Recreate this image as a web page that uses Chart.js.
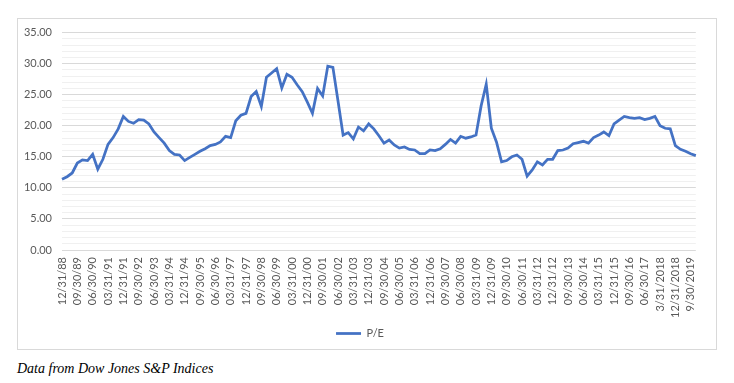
<!DOCTYPE html>
<html>
<head>
<meta charset="utf-8">
<script src="https://cdn.jsdelivr.net/npm/chart.js@4"></script>
<style>
  html, body { margin: 0; padding: 0; background: #fff; }
  body { width: 734px; height: 383px; position: relative; overflow: hidden; }
  #frame { position: absolute; left: 17px; top: 18px; width: 698px; height: 330px; border: 1px solid #d9d9d9; }
  #wrap { position: absolute; left: 0; top: -3px; width: 698px; height: 333px; }
  #caption { position: absolute; left: 17px; top: 361px; font-family: "Liberation Serif", "DejaVu Serif", serif; font-style: italic; font-size: 14px; color: #000; white-space: nowrap; }
</style>
</head>
<body>
<div id="frame"><div id="wrap"><canvas id="c"></canvas></div></div>
<div id="caption">Data from Dow Jones S&amp;P Indices</div>
<script>
const categories = [
  "12/31/88",
  "03/31/89","06/30/89","09/30/89","12/31/89",
  "03/31/90","06/30/90","09/30/90","12/31/90",
  "03/31/91","06/30/91","09/30/91","12/31/91",
  "03/31/92","06/30/92","09/30/92","12/31/92",
  "03/31/93","06/30/93","09/30/93","12/31/93",
  "03/31/94","06/30/94","09/30/94","12/31/94",
  "03/31/95","06/30/95","09/30/95","12/31/95",
  "03/31/96","06/30/96","09/30/96","12/31/96",
  "03/31/97","06/30/97","09/30/97","12/31/97",
  "03/31/98","06/30/98","09/30/98","12/31/98",
  "03/31/99","06/30/99","09/30/99","12/31/99",
  "03/31/00","06/30/00","09/30/00","12/31/00",
  "03/31/01","06/30/01","09/30/01","12/31/01",
  "03/31/02","06/30/02","09/30/02","12/31/02",
  "03/31/03","06/30/03","09/30/03","12/31/03",
  "03/31/04","06/30/04","09/30/04","12/31/04",
  "03/31/05","06/30/05","09/30/05","12/31/05",
  "03/31/06","06/30/06","09/30/06","12/31/06",
  "03/31/07","06/30/07","09/30/07","12/31/07",
  "03/31/08","06/30/08","09/30/08","12/31/08",
  "03/31/09","06/30/09","09/30/09","12/31/09",
  "03/31/10","06/30/10","09/30/10","12/31/10",
  "03/31/11","06/30/11","09/30/11","12/31/11",
  "03/31/12","06/30/12","09/30/12","12/31/12",
  "03/31/13","06/30/13","09/30/13","12/31/13",
  "03/31/14","06/30/14","09/30/14","12/31/14",
  "03/31/15","06/30/15","09/30/15","12/31/15",
  "03/31/16","06/30/16","09/30/16","12/31/16",
  "03/31/17","06/30/17","09/30/17","12/31/17",
  "3/31/2018","6/30/2018","9/30/2018","12/31/2018",
  "3/31/2019","6/30/2019","9/30/2019","12/31/2019"
];

const peValues = [
  11.4,
  11.8, 12.4, 14.0, 14.5,
  14.4, 15.4, 13.0, 14.6,
  17.0, 18.1, 19.5, 21.5,
  20.7, 20.4, 21.0, 20.9,
  20.3, 19.0, 18.1, 17.2,
  16.0, 15.4, 15.3, 14.4,
  14.9, 15.4, 15.9, 16.3,
  16.8, 17.0, 17.4, 18.3,
  18.1, 20.8, 21.7, 22.0,
  24.7, 25.5, 23.1, 27.8,
  28.5, 29.2, 26.1, 28.3,
  27.8, 26.6, 25.5, 23.8,
  22.0, 26.0, 24.8, 29.6,
  29.4, 24.0, 18.5, 18.9,
  17.9, 19.8, 19.2, 20.3,
  19.5, 18.4, 17.2, 17.7,
  16.9, 16.4, 16.6, 16.2,
  16.1, 15.5, 15.5, 16.1,
  16.0, 16.3, 17.0, 17.8,
  17.2, 18.3, 18.0, 18.2,
  18.5, 23.2, 26.7, 19.6,
  17.4, 14.2, 14.4, 15.0,
  15.3, 14.6, 11.9, 12.9,
  14.2, 13.7, 14.6, 14.6,
  16.0, 16.1, 16.4, 17.1,
  17.3, 17.5, 17.2, 18.1,
  18.5, 19.0, 18.4, 20.3,
  20.9, 21.5, 21.3, 21.2,
  21.3, 21.0, 21.2, 21.5,
  20.0, 19.6, 19.5, 16.8,
  16.2, 15.9, 15.5, 15.2
];

const seriesName = "P/E";
const labelEvery = 3;

const textColor = "#595959";
const lineColor = "#4472C4";
const fontFamily = "Lato, 'Open Sans', sans-serif";

new Chart(document.getElementById("c"), {
  type: "line",
  data: {
    labels: categories,
    datasets: [{
      label: seriesName,
      data: peValues,
      borderColor: lineColor,
      backgroundColor: lineColor,
      borderWidth: 2.75,
      pointRadius: 0,
      pointHoverRadius: 0,
      pointStyle: "line",
      tension: 0,
      fill: false
    }]
  },
  options: {
    responsive: true,
    maintainAspectRatio: false,
    animation: false,
    layout: { padding: { left: 0, right: 14, top: 2, bottom: 0 } },
    plugins: {
      legend: {
        position: "bottom",
        labels: {
          color: textColor,
          font: { family: fontFamily, size: 11 },
          usePointStyle: true,
          pointStyle: "line",
          pointStyleWidth: 25,
          boxHeight: 3,
          padding: 10
        }
      },
      tooltip: { enabled: false }
    },
    scales: {
      x: {
        grid: { display: false, drawTicks: false },
        border: { display: false },
        ticks: {
          autoSkip: false,
          minRotation: 90,
          maxRotation: 90,
          padding: 7,
          color: textColor,
          font: { family: fontFamily, size: 11 },
          callback: function (v, i) { return i % labelEvery === 0 ? categories[i] : ""; }
        },
        afterFit: function (s) { s.height = 68; }
      },
      y: {
        min: 0,
        max: 35,
        grid: {
          drawTicks: false,
          color: function (ctx) { return ctx.tick && ctx.tick.value % 5 === 0 ? "#d9d9d9" : "#f0f0f0"; },
          lineWidth: 1
        },
        border: { display: false },
        ticks: {
          autoSkip: false,
          stepSize: 1,
          padding: 10,
          color: textColor,
          font: { family: fontFamily, size: 11 },
          callback: function (v) { return v % 5 === 0 ? v.toFixed(2) : ""; }
        },
        afterFit: function (s) { s.width = 44; }
      }
    }
  }
});
</script>
</body>
</html>
